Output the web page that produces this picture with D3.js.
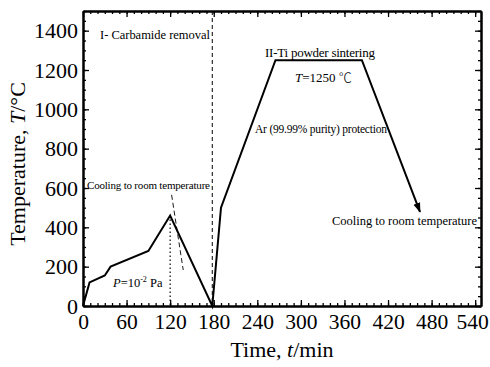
<!DOCTYPE html>
<html><head><meta charset="utf-8">
<script src="https://cdn.jsdelivr.net/npm/d3@7"></script>
<style>body{margin:0;background:#fff}svg{display:block}text{font-family:"Liberation Serif","Times New Roman",serif;fill:#000}</style>
</head><body><svg id="c" width="490" height="367"></svg>
<script>
const times = [0, 9, 30, 38, 90, 120, 178, 190, 265, 384, 464];
const temps = [0, 120, 155, 200, 280, 460, 0, 500, 1250, 1250, 479];
const xTicks = [0, 60, 120, 180, 240, 300, 360, 420, 480, 540];
const yTicks = [0, 200, 400, 600, 800, 1000, 1200, 1400];
const extrapTimes = [122, 138];
const extrapTemps = [565, 183];
const stageBoundary = [178];
const peakTime = [120];
const peakTemp = [460];

const svg = d3.select("#c");
const L = 83, R = 481, T = 11, B = 306;
const x = d3.scaleLinear().domain([0, 548]).range([L, R]);
const y = d3.scaleLinear().domain([0, 1500]).range([B, T]);

const defs = svg.append("defs");
defs.append("marker").attr("id","arr").attr("viewBox","0 0 10 10").attr("refX",9).attr("refY",5)
  .attr("markerWidth",5).attr("markerHeight",5).attr("markerUnits","strokeWidth").attr("orient","auto")
  .append("path").attr("d","M0,1.5 L10,5 L0,8.5 Z").attr("fill","#000");

function styleAx(g){ g.select(".domain").attr("stroke-width",2); g.selectAll(".tick line").attr("stroke-width",1.3); }
const minorX = d3.range(0, 549, 10), minorY = d3.range(0, 1501, 50);
const fmt = d3.format("d");
// bottom
svg.append("g").attr("transform",`translate(0,${B})`).call(d3.axisBottom(x).tickValues(minorX).tickSize(-3).tickFormat("").tickSizeOuter(0)).call(styleAx);
const bx = svg.append("g").attr("transform",`translate(0,${B})`).call(d3.axisBottom(x).tickValues(xTicks).tickSize(-6).tickFormat(fmt).tickSizeOuter(0)).call(styleAx);
bx.selectAll("text").attr("font-size",21.5).attr("y",23).attr("dy",0)
  .attr("dx",d=>d===540?-3:0);
// top
svg.append("g").attr("transform",`translate(0,${T})`).call(d3.axisTop(x).tickValues(minorX).tickSize(-3).tickFormat("").tickSizeOuter(0)).call(styleAx);
svg.append("g").attr("transform",`translate(0,${T})`).call(d3.axisTop(x).tickValues(xTicks).tickSize(-6).tickFormat("").tickSizeOuter(0)).call(styleAx);
// left
svg.append("g").attr("transform",`translate(${L},0)`).call(d3.axisLeft(y).tickValues(minorY).tickSize(-3).tickFormat("").tickSizeOuter(0)).call(styleAx);
const ly = svg.append("g").attr("transform",`translate(${L},0)`).call(d3.axisLeft(y).tickValues(yTicks).tickSize(-6).tickPadding(5).tickFormat(fmt).tickSizeOuter(0)).call(styleAx);
ly.selectAll("text").attr("font-size",22);
// right
svg.append("g").attr("transform",`translate(${R},0)`).call(d3.axisRight(y).tickValues(minorY).tickSize(-3).tickFormat("").tickSizeOuter(0)).call(styleAx);
svg.append("g").attr("transform",`translate(${R},0)`).call(d3.axisRight(y).tickValues(yTicks).tickSize(-6).tickFormat("").tickSizeOuter(0)).call(styleAx);
svg.selectAll(".domain").attr("stroke","#000");

// reference lines
svg.append("line").attr("x1",x(stageBoundary[0])).attr("x2",x(stageBoundary[0])).attr("y1",y(1500)).attr("y2",y(0))
  .attr("stroke","#000").attr("stroke-width",1).attr("stroke-dasharray","4,3");
svg.append("line").attr("x1",x(peakTime[0])).attr("x2",x(peakTime[0])).attr("y1",y(peakTemp[0])).attr("y2",y(0))
  .attr("stroke","#000").attr("stroke-width",1.2).attr("stroke-dasharray","1.5,2.5");
svg.append("line").attr("x1",x(extrapTimes[0])).attr("x2",x(extrapTimes[1])).attr("y1",y(extrapTemps[0])).attr("y2",y(extrapTemps[1]))
  .attr("stroke","#000").attr("stroke-width",0.9).attr("stroke-dasharray","5,3");

// main curve
const pts = times.map((t,i)=>[t,temps[i]]);
svg.append("path").datum(pts).attr("d", d3.line().x(d=>x(d[0])).y(d=>y(d[1])))
  .attr("fill","none").attr("stroke","#000").attr("stroke-width",2).attr("stroke-linejoin","miter").attr("marker-end","url(#arr)");

// annotations
function txt(px,py,size){ return svg.append("text").attr("x",px).attr("y",py).attr("font-size",size); }
txt(100,39,12.5).attr("textLength",110).text("I- Carbamide removal");
txt(87,189,11).attr("textLength",123).text("Cooling to room temperature");
const p = txt(113,287,12.5);
p.append("tspan").attr("font-style","italic").text("P");
p.append("tspan").text("=10");
p.append("tspan").attr("font-size",8).attr("dy",-5).text("-2");
p.append("tspan").attr("dy",5).text(" Pa");
txt(265,57,13).attr("textLength",110).text("II-Ti powder sintering");
const tt = txt(295,82,13);
tt.append("tspan").attr("font-style","italic").text("T");
tt.append("tspan").text("=1250 ");
tt.append("tspan").attr("font-family","'Noto Sans CJK SC'").attr("font-weight",300).text("\u2103");
txt(255,133,11.5).attr("textLength",132).text("Ar (99.99% purity) protection");
txt(332,225,12.5).attr("textLength",145).text("Cooling to room temperature");

// axis titles
const yt = svg.append("text").attr("transform",`translate(25,164) rotate(-90)`).attr("text-anchor","middle").attr("font-size",22);
yt.append("tspan").text("Temperature, ");
yt.append("tspan").attr("font-style","italic").text("T");
yt.append("tspan").text("/\u00B0C");
const xt = svg.append("text").attr("x",282).attr("y",357).attr("text-anchor","middle").attr("font-size",22);
xt.append("tspan").text("Time, ");
xt.append("tspan").attr("font-style","italic").text("t");
xt.append("tspan").text("/min");
</script></body></html>
